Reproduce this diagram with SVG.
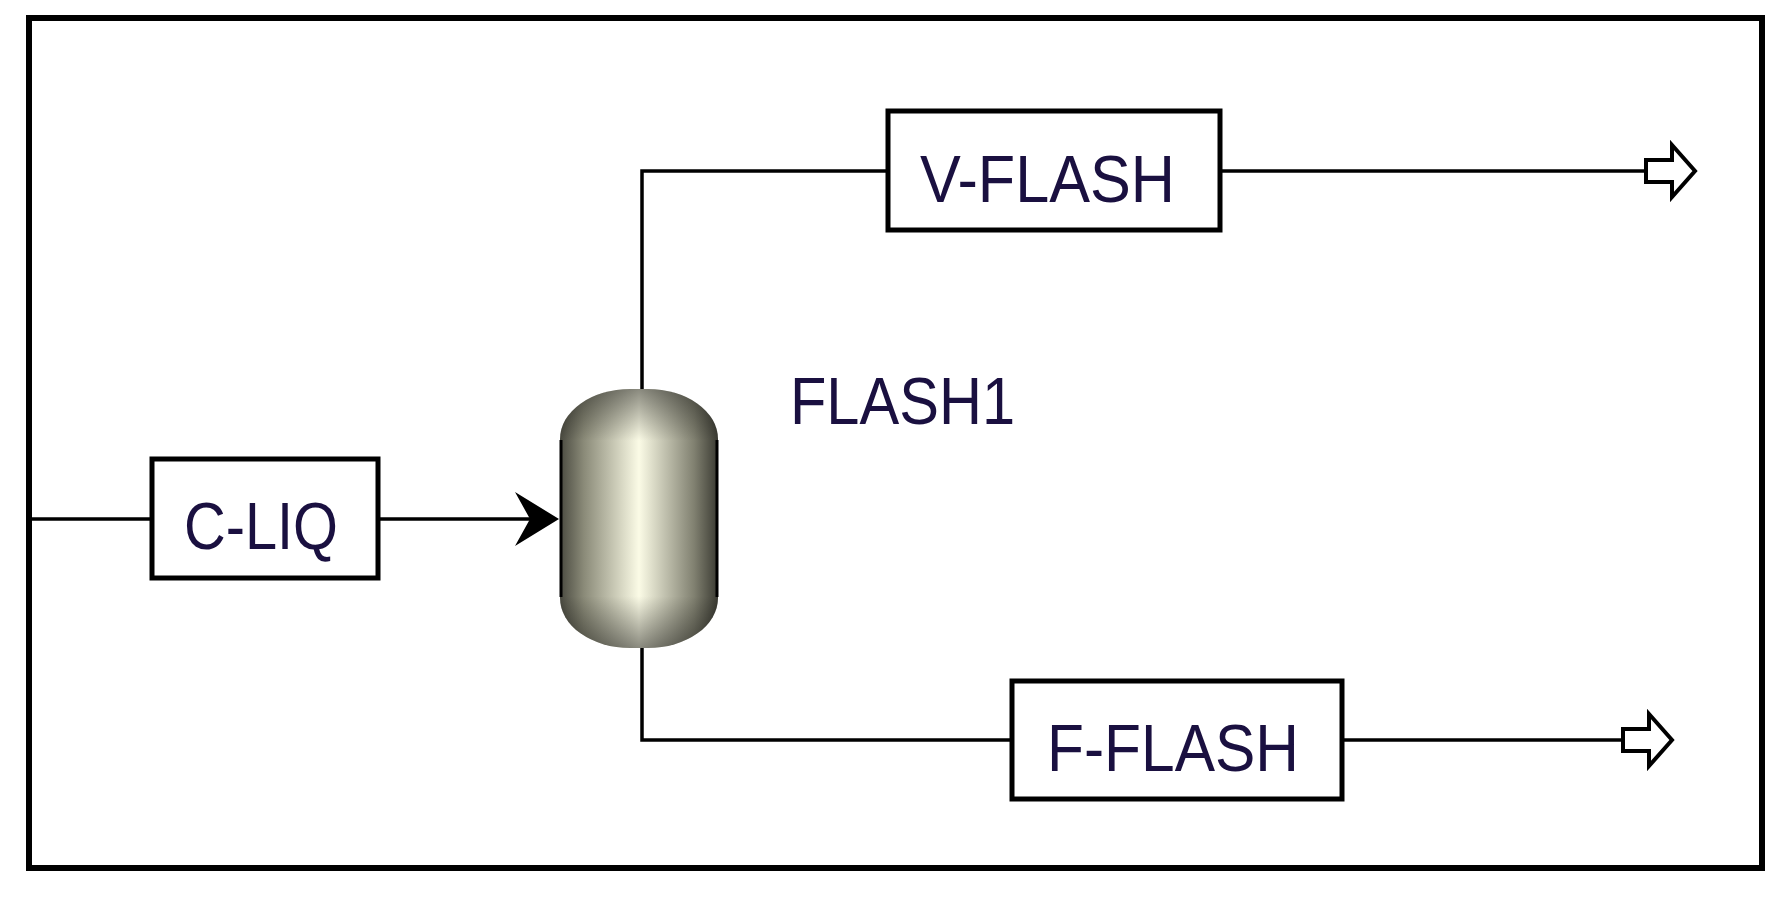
<svg xmlns="http://www.w3.org/2000/svg" width="1787" height="906" viewBox="0 0 1787 906">
<style>
.box{fill:#fff;stroke:#000;stroke-width:5}
.ln{fill:none;stroke:#000;stroke-width:3.5}
.lbl{font-family:"Liberation Sans",Arial,sans-serif;font-size:66px;fill:#1a1040}
.out{fill:#fff;stroke:#000;stroke-width:4}
</style>
<defs>
<linearGradient id="vg" x1="0" x2="1" y1="0" y2="0">
<stop offset="0" stop-color="#4a4a40"/>
<stop offset="0.15" stop-color="#8a8a78"/>
<stop offset="0.5" stop-color="#fbfbe6"/>
<stop offset="0.85" stop-color="#808070"/>
<stop offset="1" stop-color="#3a3a32"/>
</linearGradient>
<linearGradient id="vv" x1="0" x2="0" y1="0" y2="1">
<stop offset="0" stop-color="#000" stop-opacity="0.45"/>
<stop offset="0.2" stop-color="#000" stop-opacity="0"/>
<stop offset="0.8" stop-color="#000" stop-opacity="0"/>
<stop offset="1" stop-color="#000" stop-opacity="0.45"/>
</linearGradient>
</defs>
<rect x="0" y="0" width="1787" height="906" fill="#fff"/>
<rect x="29" y="18" width="1733" height="850" fill="none" stroke="#000" stroke-width="6"/>
<g id="connectors">
<path class="ln" d="M32 519 H152"/>
<path class="ln" d="M378 519 H545"/>
<path d="M515 492 L559 519 L515 546 L530 519 Z" fill="#000"/>
<path class="ln" d="M642 389 V171 H888"/>
<path class="ln" d="M1220 171 H1646"/>
<path class="out" d="M1646 160 H1672 V145 L1695 171 L1672 197 V182 H1646 Z"/>
<path class="ln" d="M642 648 V740 H1012"/>
<path class="ln" d="M1342 740 H1623"/>
<path class="out" d="M1623 729 H1649 V714 L1672 740 L1649 766 V751 H1623 Z"/>
</g>
<g id="C-LIQ">
<rect class="box" x="152" y="459" width="226" height="119"/>
<text class="lbl" x="184" y="549" textLength="154" lengthAdjust="spacingAndGlyphs">C-LIQ</text>
</g>
<g id="FLASH1">
<rect x="560" y="389" width="158" height="259" rx="70" ry="50" fill="url(#vg)"/>
<rect x="560" y="389" width="158" height="259" rx="70" ry="50" fill="url(#vv)"/>
<path d="M561 440 V597 M717 440 V597" stroke="#000" stroke-width="3"/>
<text class="lbl" x="790" y="424" textLength="225" lengthAdjust="spacingAndGlyphs">FLASH1</text>
</g>
<g id="V-FLASH">
<rect class="box" x="888" y="111" width="332" height="119"/>
<text class="lbl" x="920" y="202" textLength="255" lengthAdjust="spacingAndGlyphs">V-FLASH</text>
</g>
<g id="F-FLASH">
<rect class="box" x="1012" y="681" width="330" height="118"/>
<text class="lbl" x="1047" y="771" textLength="252" lengthAdjust="spacingAndGlyphs">F-FLASH</text>
</g>
</svg>
